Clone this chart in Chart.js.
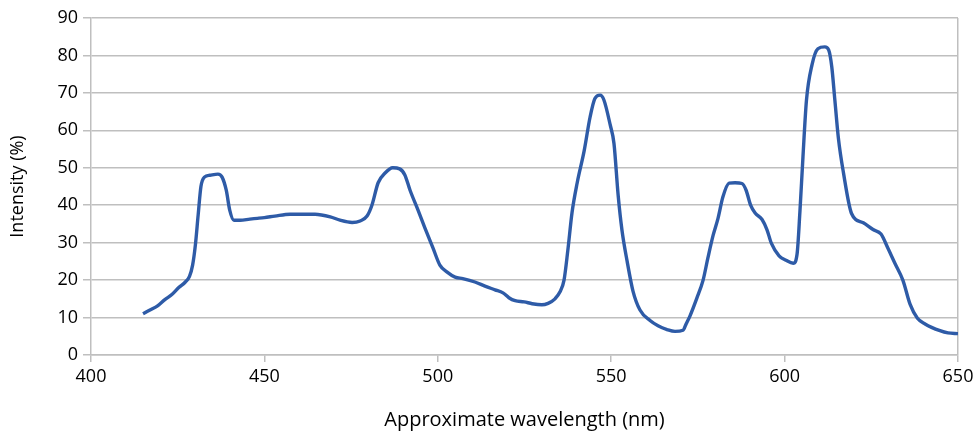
<!DOCTYPE html>
<html>
<head>
<meta charset="utf-8">
<script src="https://cdn.jsdelivr.net/npm/chart.js@4.4.0/dist/chart.umd.min.js"></script>
<style>
  html, body { margin: 0; padding: 0; background: #fff; }
  #wrap { width: 979px; height: 432px; }
</style>
</head>
<body>
<div id="wrap"><canvas id="spectrumChart" width="979" height="432"></canvas></div>
<script>
// wavelength (nm) and intensity (%)
const wavelengths = [
  415, 417, 419.3, 421.3, 423.4, 425.3, 427.2, 428.4, 429.3, 430.1,
  430.9, 431.7, 432.7, 434.3, 436.6, 437.8, 439, 440, 441.2, 443,
  445.8, 448, 450, 453, 457.4, 461.7, 464.6, 469, 471.8, 475.3,
  477.6, 479.6, 481, 482.8, 484.8, 487, 489, 490.5, 492, 494.3,
  496.3, 498.6, 500.6, 502.6, 505, 507.2, 510.7, 513.6, 516.5, 518.8,
  520.5, 522.3, 524.9, 527.2, 530, 531.8, 533.8, 535.2, 536.4, 537.5,
  538.7, 540.2, 542.2, 543.9, 545.3, 546.8, 547.9, 549.7, 550.8, 552,
  553.1, 554.6, 556.3, 558.3, 561.2, 563.5, 566.1, 568.4, 570.7, 571.6,
  572.7, 574.7, 576.5, 577.9, 579.4, 580.8, 582.2, 584, 585.7, 587.7,
  588.9, 590.2, 591.5, 593.5, 594.9, 596.2, 598.4, 600.4, 602.5, 603.6,
  604.4, 605.3, 606.3, 607.9, 609.6, 611.6, 612.7, 613.6, 614.5, 615.5,
  617, 619.3, 622.7, 625.5, 627.8, 629.8, 631.8, 634.1, 636.2, 638.3,
  640.5, 644.8, 647.1, 650
];
const intensity = [
  11.0, 12.0, 13.2, 14.8, 16.2, 18.0, 19.5, 21, 24, 29.4,
  37.4, 45, 47.5, 48, 48.3, 47.5, 44, 38.7, 36, 36,
  36.3, 36.5, 36.7, 37.1, 37.6, 37.6, 37.6, 36.9, 36, 35.4,
  35.8, 37.1, 40, 46, 48.6, 50, 49.7, 48.1, 44, 38.7,
  33.9, 28.6, 24, 22.2, 20.8, 20.4, 19.5, 18.4, 17.4, 16.6,
  15.3, 14.5, 14.2, 13.7, 13.4, 13.8, 15, 16.8, 20, 28,
  38, 46, 54.5, 63.5, 68.5, 69.4, 68.1, 61.5, 56.5, 42.7,
  33.4, 25, 17, 12, 9.2, 7.8, 6.8, 6.3, 6.6, 8.3,
  10.4, 15.2, 20, 26, 32, 36.5, 42.2, 45.9, 46, 45.8,
  44, 40, 37.9, 36.2, 33.5, 29.8, 26.5, 25.3, 24.5, 27,
  38, 53, 68, 77.5, 81.8, 82.3, 81.5, 77, 68, 58,
  48.5, 37.8, 35.3, 33.5, 32.3, 28.5, 24.5, 20, 13.5, 9.8,
  8.3, 6.5, 5.9, 5.7
];
const xTicks = [400, 450, 500, 550, 600, 650];
const yTicks = [0, 10, 20, 30, 40, 50, 60, 70, 80, 90];

const gridGray = '#bfbfbf';
const points = wavelengths.map((w, i) => ({ x: w, y: intensity[i] }));

Chart.defaults.font.family = "'Open Sans', 'Noto Sans', sans-serif";
Chart.defaults.font.size = 18;
Chart.defaults.color = '#000';

new Chart(document.getElementById('spectrumChart'), {
  type: 'line',
  data: {
    datasets: [{
      data: points,
      borderColor: '#2e5ba7',
      borderWidth: 3.4,
      pointRadius: 0,
      fill: false,
      cubicInterpolationMode: 'monotone'
    }]
  },
  options: {
    responsive: false,
    animation: false,
    layout: { padding: { left: 0, right: 21, top: 18, bottom: 0 } },
    plugins: { legend: { display: false }, tooltip: { enabled: false } },
    scales: {
      x: {
        type: 'linear',
        min: 400, max: 650,
        afterBuildTicks: s => { s.ticks = xTicks.map(v => ({ value: v })); },
        afterFit: s => { s.height = 77; },
        ticks: { padding: 4, maxRotation: 0 },
        border: { color: gridGray, width: 1.5 },
        grid: {
          color: c => (c.tick && c.tick.value === 650 ? gridGray : 'rgba(0,0,0,0)'),
          tickColor: gridGray,
          lineWidth: 1.5,
          tickLength: 7
        },
        title: {
          display: true, text: 'Approximate wavelength (nm)',
          font: { size: 20 }, padding: { top: 5, bottom: 0 }
        }
      },
      y: {
        min: 0, max: 90,
        afterBuildTicks: s => { s.ticks = yTicks.map(v => ({ value: v })); },
        afterFit: s => { s.width = 91; },
        ticks: { padding: 5 },
        border: { color: gridGray, width: 1.5 },
        grid: { color: gridGray, lineWidth: 1.5, tickLength: 8 },
        title: {
          display: true, text: 'Intensity (%)',
          font: { size: 18 }, padding: { top: 7, bottom: 0 }
        }
      }
    }
  }
});
</script>
</body>
</html>
